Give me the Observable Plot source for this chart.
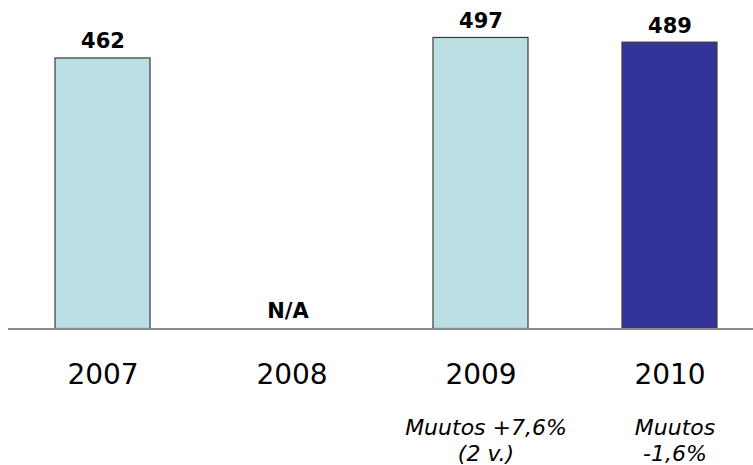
<!DOCTYPE html>
<html>
<head>
<meta charset="utf-8">
<script src="https://cdn.jsdelivr.net/npm/d3@7"></script>
<script src="https://cdn.jsdelivr.net/npm/@observablehq/plot@0.6"></script>
<style>
  html, body { margin: 0; padding: 0; background: #fff; }
  #chart svg { display: block; }
</style>
</head>
<body>
<div id="chart"></div>
<script>
const years = ["2007", "2008", "2009", "2010"];
const values = [462, null, 497, 489];
const valueLabels = ["462", "N/A", "497", "489"];
const notes = ["", "", "Muutos +7,6%\n(2 v.)", "Muutos\n-1,6%"];
const highlight = [false, false, false, true];

const data = years.map((y, i) => ({
  year: y,
  value: values[i],
  label: valueLabels[i],
  note: notes[i],
  hi: highlight[i]
}));
const bars = data.filter(d => d.value != null);

const font = "DejaVu Sans, Verdana, sans-serif";

const chart = Plot.plot({
  width: 753,
  height: 465,
  marginLeft: 55,
  marginRight: 36.5,
  marginTop: 35.7,
  marginBottom: 136.5,
  style: { fontFamily: font, background: "#fff", overflow: "visible" },
  x: { domain: years, paddingInner: 0.5, paddingOuter: 0, axis: null },
  y: { domain: [0, 500], axis: null },
  marks: [
    Plot.barY(bars, {
      x: "year",
      y: "value",
      fill: d => d.hi ? "#333399" : "#BBE0E3",
      stroke: "#3a3a3a",
      strokeWidth: 1.2
    }),
    Plot.ruleY([0], { stroke: "#8c8c8c", strokeWidth: 2, insetLeft: -47, insetRight: -37 }),
    Plot.text(bars, {
      x: "year", y: "value", text: "label",
      lineAnchor: "bottom", dy: -10,
      fontSize: 21, fontWeight: "bold", fill: "#000"
    }),
    Plot.text(data.filter(d => d.value == null), {
      x: "year", y: () => 0, text: "label",
      lineAnchor: "bottom", dy: -11, dx: -4,
      fontSize: 21, fontWeight: "bold", fill: "#000"
    }),
    Plot.text(data, {
      x: "year", y: () => 0, text: "year",
      lineAnchor: "bottom", dy: 54.5,
      fontSize: 28, fill: "#000"
    }),
    Plot.text(data.filter(d => d.note), {
      x: "year", y: () => 0, text: "note",
      lineAnchor: "bottom", dy: 132, dx: 5,
      lineHeight: 1.2,
      fontSize: 22, fontStyle: "italic", fill: "#000"
    })
  ]
});
document.getElementById("chart").appendChild(chart);
</script>
</body>
</html>
